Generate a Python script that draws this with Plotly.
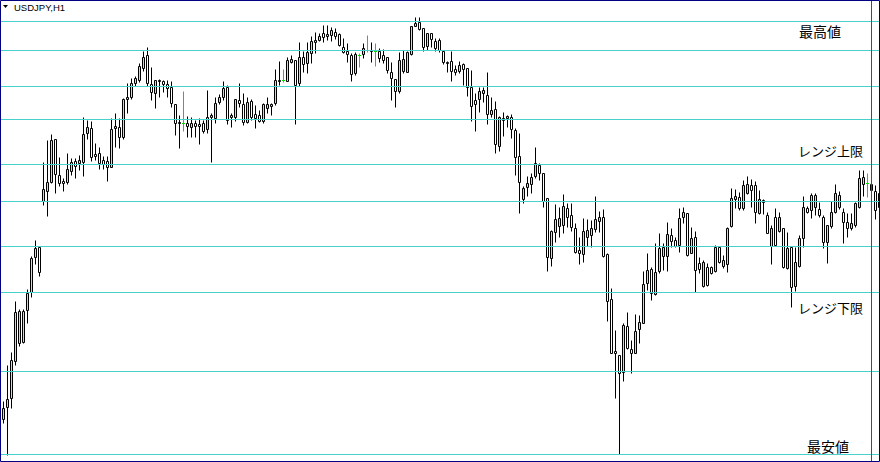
import plotly.graph_objects as go

# USDJPY H1 candles (price, JPY)
open_ = [
    105.81, 105.93, 106.02, 106.39, 106.57, 106.58, 106.90, 107.08, 107.43, 107.53,
    107.99, 108.09, 108.18, 108.61, 108.25, 108.19, 108.18, 108.29, 108.39, 108.37,
    108.38, 108.67, 108.72, 108.46, 108.47, 108.40, 108.39, 108.33, 108.72, 108.73,
    108.63, 109.01, 109.03, 109.17, 109.20, 109.32, 109.45, 109.16, 109.07, 109.19,
    109.19, 109.16, 109.13, 108.96, 108.78, 108.77, 108.77, 108.73, 108.77, 108.76,
    108.77, 108.71, 108.83, 108.82, 108.98, 109.03, 109.13, 108.83, 108.83, 109.00,
    108.96, 108.78, 108.99, 108.86, 108.85, 108.79, 108.92, 108.94, 108.97, 109.19,
    109.20, 109.19, 109.38, 109.40, 109.17, 109.43, 109.37, 109.47, 109.58, 109.60,
    109.67, 109.64, 109.65, 109.68, 109.66, 109.53, 109.49, 109.45, 109.27, 109.45,
    109.46, 109.50, 109.50, 109.49, 109.49, 109.45, 109.43, 109.28, 109.21, 109.09,
    109.29, 109.28, 109.46, 109.74, 109.78, 109.72, 109.54, 109.67, 109.59, 109.60,
    109.49, 109.38, 109.39, 109.31, 109.29, 109.36, 109.32, 109.13, 109.00, 109.01,
    109.07, 109.05, 108.86, 108.91, 108.54, 108.82, 108.82, 108.83, 108.70, 108.44,
    108.01, 108.13, 108.16, 108.24, 108.35, 108.27, 108.02, 107.42, 107.68, 107.74,
    107.75, 107.92, 107.85, 107.72, 107.50, 107.46, 107.63, 107.65, 107.71, 107.79,
    107.83, 107.46, 107.01, 106.49, 106.45, 106.28, 106.74, 106.51, 106.47, 106.71,
    106.77, 107.17, 107.31, 107.06, 107.29, 107.44, 107.44, 107.65, 107.60, 107.55,
    107.83, 107.87, 107.47, 107.63, 107.37, 107.14, 107.33, 107.33, 107.29, 107.53,
    107.34, 107.36, 107.74, 108.01, 108.03, 107.92, 108.07, 108.15, 108.15, 107.87,
    108.00, 107.85, 107.54, 107.83, 107.69, 107.72, 107.32, 107.53, 107.14, 107.34,
    107.62, 107.92, 107.90, 107.93, 107.91, 107.83, 107.58, 107.74, 107.88, 107.93,
    107.88, 107.78, 107.72, 107.75, 107.93, 108.16, 108.17, 108.16, 108.09, 107.93,
]
high = [
    105.99, 106.35, 106.48, 106.99, 106.91, 106.91, 107.11, 107.44, 107.60, 107.53,
    108.38, 108.60, 108.66, 108.61, 108.43, 108.22, 108.47, 108.42, 108.42, 108.45,
    108.83, 108.80, 108.79, 108.57, 108.53, 108.44, 108.44, 108.82, 108.87, 108.82,
    109.02, 109.17, 109.22, 109.24, 109.37, 109.49, 109.53, 109.33, 109.20, 109.21,
    109.20, 109.20, 109.19, 108.96, 108.85, 109.09, 108.84, 108.83, 108.80, 108.82,
    108.80, 109.10, 108.87, 109.03, 109.06, 109.19, 109.15, 108.87, 109.01, 109.17,
    109.07, 109.03, 109.01, 108.95, 108.90, 108.97, 109.03, 108.97, 109.31, 109.39,
    109.31, 109.43, 109.45, 109.40, 109.58, 109.49, 109.58, 109.64, 109.68, 109.67,
    109.75, 109.75, 109.73, 109.72, 109.67, 109.62, 109.57, 109.47, 109.48, 109.47,
    109.57, 109.65, 109.58, 109.57, 109.52, 109.51, 109.43, 109.38, 109.21, 109.48,
    109.50, 109.49, 109.74, 109.83, 109.83, 109.72, 109.67, 109.67, 109.62, 109.62,
    109.49, 109.39, 109.49, 109.35, 109.39, 109.37, 109.32, 109.30, 109.07, 109.13,
    109.13, 109.28, 109.03, 108.99, 108.84, 108.88, 108.85, 108.86, 108.72, 108.67,
    108.14, 108.24, 108.27, 108.53, 108.37, 108.27, 108.02, 107.70, 107.96, 107.93,
    108.06, 107.97, 107.97, 107.77, 107.63, 107.82, 107.81, 107.80, 108.04, 107.89,
    107.91, 107.47, 107.12, 106.70, 106.45, 106.77, 106.88, 106.60, 106.86, 106.85,
    107.29, 107.47, 107.33, 107.57, 107.67, 107.57, 107.78, 107.72, 107.63, 107.92,
    107.93, 107.87, 107.73, 107.69, 107.43, 107.40, 107.37, 107.34, 107.55, 107.54,
    107.45, 107.73, 108.12, 108.11, 108.08, 108.20, 108.24, 108.21, 108.19, 108.10,
    108.01, 107.88, 107.75, 107.92, 107.88, 107.72, 107.68, 107.53, 107.53, 107.65,
    108.04, 107.94, 108.07, 108.07, 107.98, 107.85, 107.75, 107.99, 108.16, 108.09,
    107.92, 107.87, 107.87, 107.98, 108.30, 108.30, 108.27, 108.20, 108.15, 108.10,
]
low = [
    105.77, 105.45, 105.92, 106.35, 106.54, 106.57, 106.77, 107.03, 107.36, 107.24,
    107.95, 107.84, 108.17, 108.07, 108.14, 108.09, 108.16, 108.25, 108.22, 108.30,
    108.24, 108.61, 108.39, 108.40, 108.31, 108.31, 108.19, 108.33, 108.53, 108.52,
    108.61, 108.87, 109.01, 109.14, 109.18, 109.29, 109.14, 109.00, 108.92, 109.03,
    109.08, 109.03, 108.93, 108.65, 108.52, 108.69, 108.63, 108.63, 108.63, 108.56,
    108.67, 108.67, 108.38, 108.77, 108.96, 109.00, 108.76, 108.73, 108.79, 108.93,
    108.75, 108.77, 108.80, 108.72, 108.78, 108.77, 108.87, 108.85, 108.95, 109.15,
    109.18, 109.19, 109.37, 108.76, 109.14, 109.28, 109.27, 109.37, 109.47, 109.59,
    109.58, 109.60, 109.59, 109.61, 109.54, 109.47, 109.38, 109.19, 109.25, 109.33,
    109.42, 109.48, 109.38, 109.34, 109.38, 109.37, 109.27, 109.00, 108.93, 109.07,
    109.27, 109.28, 109.45, 109.74, 109.70, 109.49, 109.50, 109.53, 109.49, 109.48,
    109.36, 109.28, 109.19, 109.25, 109.27, 109.15, 109.04, 108.79, 108.69, 108.88,
    108.98, 108.76, 108.83, 108.47, 108.49, 108.64, 108.73, 108.62, 108.25, 107.87,
    107.97, 108.04, 108.07, 108.22, 108.20, 107.93, 107.29, 107.34, 107.58, 107.63,
    107.67, 107.73, 107.69, 107.47, 107.36, 107.38, 107.54, 107.53, 107.68, 107.68,
    107.43, 106.79, 106.47, 106.02, 105.46, 106.19, 106.51, 106.27, 106.47, 106.57,
    106.77, 107.10, 107.00, 107.05, 107.27, 107.30, 107.29, 107.53, 107.53, 107.48,
    107.77, 107.44, 107.47, 107.08, 107.27, 107.13, 107.14, 107.26, 107.28, 107.37,
    107.32, 107.28, 107.73, 107.92, 107.90, 107.90, 108.06, 107.93, 107.77, 107.86,
    107.86, 107.67, 107.36, 107.54, 107.68, 107.32, 107.31, 106.93, 107.09, 107.33,
    107.53, 107.87, 107.82, 107.85, 107.83, 107.52, 107.37, 107.72, 107.87, 107.91,
    107.57, 107.63, 107.70, 107.73, 107.92, 108.04, 108.03, 108.05, 107.81, 107.88,
]
close = [
    105.92, 106.01, 106.40, 106.88, 106.89, 106.89, 107.07, 107.42, 107.52, 107.28,
    108.11, 108.18, 108.60, 108.26, 108.17, 108.17, 108.31, 108.38, 108.34, 108.40,
    108.66, 108.73, 108.43, 108.44, 108.37, 108.36, 108.33, 108.71, 108.74, 108.63,
    109.01, 109.03, 109.17, 109.22, 109.34, 109.43, 109.17, 109.08, 109.20, 109.20,
    109.16, 109.12, 108.97, 108.77, 108.77, 108.77, 108.74, 108.77, 108.74, 108.74,
    108.69, 108.83, 108.85, 108.97, 109.03, 109.12, 108.80, 108.85, 109.01, 108.97,
    108.78, 108.98, 108.83, 108.82, 108.79, 108.96, 108.96, 108.96, 109.20, 109.20,
    109.20, 109.40, 109.41, 109.15, 109.43, 109.36, 109.48, 109.59, 109.60, 109.64,
    109.63, 109.66, 109.70, 109.64, 109.55, 109.48, 109.46, 109.26, 109.46, 109.45,
    109.52, 109.50, 109.49, 109.49, 109.42, 109.40, 109.30, 109.22, 109.09, 109.40,
    109.41, 109.48, 109.74, 109.77, 109.71, 109.53, 109.67, 109.61, 109.52, 109.50,
    109.38, 109.37, 109.29, 109.28, 109.35, 109.31, 109.13, 108.94, 108.96, 109.09,
    109.10, 108.86, 108.90, 108.56, 108.83, 108.80, 108.84, 108.71, 108.43, 108.18,
    108.12, 108.17, 108.23, 108.37, 108.27, 107.99, 107.43, 107.69, 107.81, 107.82,
    107.94, 107.83, 107.73, 107.48, 107.47, 107.69, 107.70, 107.72, 107.81, 107.83,
    107.44, 106.99, 106.47, 106.47, 106.27, 106.75, 106.52, 106.47, 106.69, 106.78,
    107.16, 107.30, 107.07, 107.28, 107.52, 107.53, 107.66, 107.59, 107.54, 107.82,
    107.88, 107.45, 107.62, 107.30, 107.31, 107.38, 107.15, 107.27, 107.53, 107.38,
    107.40, 107.72, 108.02, 108.04, 107.92, 108.15, 108.16, 108.10, 107.88, 108.01,
    107.98, 107.67, 107.72, 107.55, 107.83, 107.33, 107.52, 107.13, 107.38, 107.62,
    107.93, 107.88, 108.05, 108.05, 107.85, 107.58, 107.75, 107.88, 108.07, 108.05,
    107.78, 107.72, 107.77, 107.97, 108.22, 108.23, 108.17, 108.10, 107.90, 108.07,
]

# horizontal levels drawn on the chart (price)
levels = [109.79, 109.50, 109.14, 108.81, 108.36, 107.99, 107.54, 107.08, 106.29, 105.46]
# candle index of the red vertical line
vline_index = 217
symbol_label = "USDJPY,H1"
level_texts = ["最高値", "レンジ上限", "レンジ下限", "最安値"]

n = len(open_)
idx = list(range(n))
bull = [i for i in idx if close[i] > open_[i]]
bear = [i for i in idx if close[i] < open_[i]]
doji = [i for i in idx if close[i] == open_[i]]

PINK = "#F4C8C8"
TURQ = "#48D1CC"
DOJI = "#00DD00"

# wick segments (outside the body)
wx, wy = [], []
for i in bull + bear:
    top = max(open_[i], close[i])
    bot = min(open_[i], close[i])
    if high[i] > top:
        wx += [i, i, None]
        wy += [high[i], top, None]
    if low[i] < bot:
        wx += [i, i, None]
        wy += [bot, low[i], None]

dx, dy = [], []
for i in doji:
    dx += [i, i, None, i - 0.375, i + 0.375, None]
    dy += [high[i], low[i], None, open_[i], open_[i], None]

fig = go.Figure()
fig.add_trace(go.Scatter(x=wx, y=wy, mode="lines", line=dict(color="black", width=1),
                         hoverinfo="skip", showlegend=False))


def body(ids, fill):
    return go.Bar(
        x=ids,
        base=[min(open_[i], close[i]) for i in ids],
        y=[abs(close[i] - open_[i]) for i in ids],
        width=0.5,
        marker=dict(color=fill, line=dict(color="black", width=1)),
        hoverinfo="skip", showlegend=False,
    )


fig.add_trace(body(bull, PINK))
fig.add_trace(body(bear, "white"))
fig.add_trace(go.Scatter(x=dx, y=dy, mode="lines", line=dict(color=DOJI, width=1),
                         hoverinfo="skip", showlegend=False))

W, H = 880, 462
shapes = []
for lv in levels:
    shapes.append(dict(type="line", xref="paper", x0=0, x1=1, yref="y", y0=lv, y1=lv,
                       line=dict(color=TURQ, width=1), layer="above"))
shapes.append(dict(type="line", xref="x", x0=vline_index, x1=vline_index, yref="paper",
                   y0=0, y1=1, line=dict(color="#FF0000", width=1), layer="above"))
# window frame
shapes.append(dict(type="rect", xref="paper", yref="paper",
                   x0=0.5 / W, x1=879.5 / W, y0=0.5 / H, y1=1 - 0.5 / H,
                   line=dict(color="#000080", width=1), layer="above"))
# small dropdown triangle
tri = "M {:.5f},{:.5f} L {:.5f},{:.5f} L {:.5f},{:.5f} Z".format(
    3 / W, 1 - 5 / H, 8 / W, 1 - 5 / H, 5.5 / W, 1 - 8 / H)
shapes.append(dict(type="path", xref="paper", yref="paper", path=tri,
                   fillcolor="black", line=dict(width=0), layer="above"))

jp = "Noto Sans CJK JP"
annotations = [
    dict(text=symbol_label, x=12 / W, y=1 - 8 / H, xref="paper", yref="paper",
         xanchor="left", yanchor="middle", showarrow=False,
         font=dict(family="Liberation Sans, Arial", size=9.5, color="black")),
    dict(text=level_texts[0], x=797 / W, y=1 - 31 / H, xref="paper", yref="paper",
         xanchor="left", yanchor="middle", showarrow=False,
         font=dict(family=jp, size=14, color="black")),
    dict(text=level_texts[1], x=796 / W, y=1 - 150 / H, xref="paper", yref="paper",
         xanchor="left", yanchor="middle", showarrow=False,
         font=dict(family=jp, size=13, color="black")),
    dict(text=level_texts[2], x=796 / W, y=1 - 307 / H, xref="paper", yref="paper",
         xanchor="left", yanchor="middle", showarrow=False,
         font=dict(family=jp, size=13, color="black")),
    dict(text=level_texts[3], x=805 / W, y=1 - 445.5 / H, xref="paper", yref="paper",
         xanchor="left", yanchor="middle", showarrow=False,
         font=dict(family=jp, size=14, color="black")),
]

fig.update_layout(
    width=W, height=H,
    margin=dict(l=0, r=0, t=0, b=0),
    paper_bgcolor="white", plot_bgcolor="white",
    barmode="overlay", bargap=0.1, showlegend=False,
    xaxis=dict(range=[-0.875, 219.125], visible=False, fixedrange=True),
    yaxis=dict(range=[105.385, 110.005], visible=False, fixedrange=True),
    shapes=shapes, annotations=annotations,
)

fig.write_html(
    "out.html",
    config={"displayModeBar": False},
    post_script="document.body.style.margin='0';document.body.style.padding='0';"
                "document.body.style.overflow='hidden';",
)
